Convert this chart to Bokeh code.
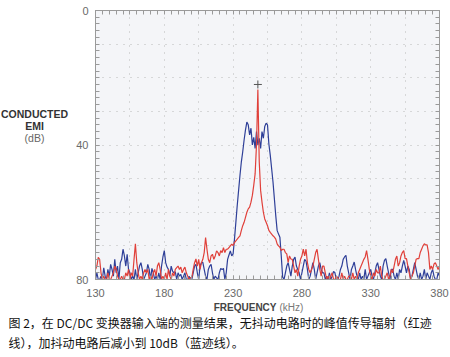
from bokeh.plotting import figure
from bokeh.models import Range1d, FixedTicker, LinearAxis
from bokeh.layouts import row, column
from bokeh.core.properties import value
from bokeh.embed import file_html
from bokeh.resources import INLINE

# ---------------- data ----------------
freq_khz = list(range(130, 381))

blue_db = [
    80, 78, 80, 80, 79, 80, 76.5, 79, 80, 77,
    79, 75.5, 77, 79, 74, 78, 76, 80, 75, 74,
    71, 73, 76, 72.5, 77, 78, 80, 79, 80, 77,
    80, 78, 76, 75, 77, 80, 79, 78, 75.5, 77,
    80, 76.7, 78, 80, 79, 80, 78, 80, 76, 73.3,
    71.4, 75, 76.3, 77, 79, 76, 77.5, 78, 77.7, 80,
    78, 79, 78.5, 80, 79, 78, 80, 80, 79, 80,
    80, 78, 76, 75.5, 78, 80, 76, 75, 74.9, 77,
    79, 80, 77, 76, 75.5, 78, 80, 79, 79.5, 80,
    78, 76.7, 77, 76.7, 80, 78, 74, 72.7, 71.5, 73,
    72.4, 68, 63, 58, 53.5, 49, 45, 42, 38.5, 35.5,
    33.2, 34, 37, 35, 40, 37.7, 41, 36, 40, 38,
    41, 36, 38, 34.5, 33.5, 34, 39.7, 43, 47, 51,
    56, 61, 65.4, 66.5, 67.4, 73, 79.3, 80, 78, 76,
    75, 77, 79, 76, 74, 73.3, 76, 77, 78, 80,
    78, 76, 74, 74.5, 77, 80, 79, 77, 75, 77,
    80, 78, 76, 75, 77, 78, 78, 80, 79, 80,
    78, 80, 79, 77.6, 78, 80, 80, 79, 77, 76,
    74, 73.3, 72.8, 76, 78, 80, 77, 76, 74.8, 77,
    79, 80, 78, 80, 79, 80, 77, 80, 79, 78,
    77, 79, 80, 78, 76, 75, 77, 79, 80, 76,
    74.3, 73.8, 76, 78, 80, 77, 77, 79, 80, 78,
    80, 77, 78, 76, 74.3, 76, 78, 76, 77, 80,
    79, 77, 75, 77, 79, 80, 78, 80, 79, 77,
    80, 78, 79, 80, 78, 77, 79, 80, 80, 78,
    79,
]

red_db = [
    77, 76, 73.4, 74, 78, 80, 79, 80, 80, 78,
    80, 80, 79, 78, 76, 77, 79, 80, 80, 79,
    80, 80, 78, 79, 77, 80, 78, 79, 74, 69.4,
    75, 78, 80, 79, 80, 78, 77, 78, 77, 80,
    79, 80, 78, 77, 79, 76, 75, 77, 80, 79,
    80, 78, 80, 77, 79, 80, 78, 79, 77, 76.5,
    76, 77, 76.3, 78, 77, 76.3, 78, 79, 80, 79.4,
    79.4, 77, 75, 73.9, 76, 74, 77, 75, 74, 72,
    67.5, 71, 74, 75, 73, 72.5, 74, 73, 71.5, 72,
    73, 71.4, 72, 70.5, 72, 71, 71, 70.5, 70, 69.5,
    69.9, 69, 68.5, 68, 67.5, 67, 65.4, 64, 63, 61.5,
    60, 59, 58.5, 57, 55, 52, 48.6, 40, 23.5, 45,
    53.5, 57, 60, 62, 63, 64, 65.4, 66, 66.5, 67,
    67.4, 68, 69.4, 70, 70.4, 71.4, 71, 71, 72, 72.4,
    74.9, 73, 73.9, 74, 76, 78, 77, 79, 76, 74,
    73, 71, 73, 71, 75, 77, 78, 77, 76, 74,
    72, 71, 74, 77, 79, 76, 76, 78, 80, 79,
    80, 79, 78, 80, 80, 79, 79.4, 80, 80, 78,
    80, 79, 80, 80, 79, 79, 80, 78, 80, 79,
    80, 78, 77, 76, 75, 74, 73.3, 71.4, 74, 77,
    79, 80, 78, 79, 77, 78, 78, 76, 79, 80,
    80, 79, 78, 80, 79, 77, 78, 76, 74, 73,
    76, 75, 73, 72, 71.4, 73.8, 73.8, 76, 78, 80,
    79, 78, 76, 74, 73.8, 73.8, 72, 71, 70, 69.4,
    69.7, 69.7, 72, 77, 76, 77, 75.4, 75, 76, 77,
    76,
]

peak_freq = [248]
peak_db = [22]

x_tick_values = [130, 180, 230, 280, 330, 380]
x_minor_values = list(range(130, 381, 5))
x_grid_values = [155, 180, 205, 230, 255, 280, 305, 330, 355]
y_tick_values = [0, 40, 80]
y_minor_values = list(range(0, 81, 2))
y_grid_values = [10, 20, 30, 40, 50, 60, 70]

y_title_lines = ["CONDUCTED", "EMI", "(dB)"]
x_title_bold = "FREQUENCY"
x_title_unit = "(kHz)"
caption_lines = [
    "图 2，在 DC/DC 变换器输入端的测量结果，无抖动电路时的峰值传导辐射（红迹",
    "线），加抖动电路后减小到 10dB（蓝迹线）。",
]

assert len(freq_khz) == len(blue_db) == len(red_db)

# ---------------- main chart ----------------
LEFT_W = 70
TOP_H = 300
BORDER_TOP = 10
BORDER_BOTTOM = 21
p = figure(width=450 - LEFT_W, height=TOP_H, output_backend="svg",
           toolbar_location=None, title=None,
           x_range=Range1d(130, 380), y_range=Range1d(80, 0),
           x_axis_location=None, y_axis_location=None,
           min_border_left=25, min_border_right=11,
           min_border_top=BORDER_TOP, min_border_bottom=BORDER_BOTTOM)
p.background_fill_color = "#f4f5f8"
p.border_fill_color = "white"
p.outline_line_color = "#9a9a9a"

axis_col = "#9a9a9a"
lab_col = "#6a6a6a"


def make_axis(ticks, minor):
    ax = LinearAxis(ticker=FixedTicker(ticks=ticks, minor_ticks=minor))
    ax.axis_line_color = axis_col
    ax.major_tick_line_color = axis_col
    ax.minor_tick_line_color = axis_col
    ax.major_tick_in = 4
    ax.major_tick_out = 0
    ax.minor_tick_in = 4
    ax.minor_tick_out = 0
    ax.major_label_text_font = "Liberation Sans"
    ax.major_label_text_font_size = "11px"
    ax.major_label_text_color = lab_col
    return ax


bottom = make_axis(x_tick_values, x_minor_values)
bottom.major_label_standoff = 9
p.add_layout(bottom, "below")
left = make_axis(y_tick_values, y_minor_values)
left.major_label_standoff = 7
p.add_layout(left, "left")
top = make_axis([], x_minor_values)
p.add_layout(top, "above")
right = make_axis([], y_minor_values)
p.add_layout(right, "right")

p.xgrid.ticker = FixedTicker(ticks=x_grid_values)
p.ygrid.ticker = FixedTicker(ticks=y_grid_values)
for g in (p.xgrid, p.ygrid):
    g.grid_line_color = "#b8b8b8"
    g.grid_line_dash = "1 6"
    g.grid_line_width = 1

p.line(freq_khz, blue_db, line_color="#2e3f98", line_width=1.2)
p.line(freq_khz, red_db, line_color="#e0403a", line_width=1.2)
p.scatter(peak_freq, peak_db, marker="cross", size=8, line_color="#555555",
          line_width=1)


# ---------------- text panels (pixel coordinate figures) ----------------
def text_panel(w, h, y_top, y_bottom):
    f = figure(width=w, height=h, output_backend="svg", toolbar_location=None,
               title=None,
               x_range=Range1d(0, w), y_range=Range1d(y_bottom, y_top),
               min_border=0, x_axis_location=None, y_axis_location=None)
    f.outline_line_color = None
    f.background_fill_color = "white"
    f.border_fill_color = "white"
    f.xgrid.visible = False
    f.ygrid.visible = False
    return f


def put_text(f, x, y, txt, align, size, style="normal", color="#333333",
             font="Liberation Sans"):
    f.text(x=[x], y=[y], text=[txt], text_align=align, text_baseline="middle",
           text_font=value(font), text_font_size=size,
           text_font_style=style, text_color=color)


# the row aligns this panel's frame with the chart frame (y 10..279)
ytitle = text_panel(LEFT_W, TOP_H, BORDER_TOP, TOP_H - BORDER_BOTTOM)
for txt, yy, st, col in zip(y_title_lines, [113, 125, 137],
                            ["bold", "bold", "normal"],
                            ["#333333", "#333333", "#666666"]):
    put_text(ytitle, 34, yy, txt, "center", "10.5px", st, col)

cap = text_panel(450, 357 - TOP_H, TOP_H, 357)
put_text(cap, 276, 307, x_title_bold, "right", "10px", "bold", "#444444")
put_text(cap, 279, 307, x_title_unit, "left", "10px", "normal", "#777777")
for txt, yy in zip(caption_lines, [322, 342]):
    put_text(cap, 8, yy, txt, "left", "12px", "normal", "#111111",
             "Noto Sans CJK SC")

layout = column(row(ytitle, p), cap)
open("out.html", "w").write(file_html(layout, INLINE))
